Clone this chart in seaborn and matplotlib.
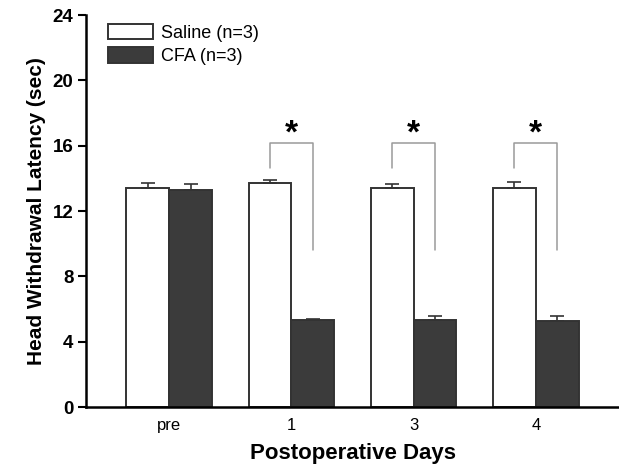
import numpy as np
import pandas as pd
import matplotlib
matplotlib.use("Agg")
import matplotlib.pyplot as plt
import seaborn as sns

days = ["pre", "1", "3", "4"]
groups = ["Saline (n=3)", "CFA (n=3)"]
saline_mean = [13.39, 13.74, 13.43, 13.43]
saline_sem = [0.35, 0.14, 0.23, 0.33]
cfa_mean = [13.27, 5.33, 5.33, 5.29]
cfa_sem = [0.37, 0.05, 0.26, 0.27]

# significance brackets for days 1, 3, 4
sig_days = ["1", "3", "4"]
bracket_top = 16.15
bracket_left_low = 14.65
bracket_right_low = 9.6

df = pd.DataFrame({
    "day": days * 2,
    "group": [groups[0]] * 4 + [groups[1]] * 4,
    "latency": saline_mean + cfa_mean,
})

sns.set_style("ticks")
plt.rcParams["font.family"] = ["Liberation Sans", "DejaVu Sans"]
plt.rcParams["text.color"] = "black"
plt.rcParams["axes.labelcolor"] = "black"
plt.rcParams["xtick.color"] = "black"
plt.rcParams["ytick.color"] = "black"

fig = plt.figure(figsize=(6.19, 4.69), dpi=100)
ax = fig.add_axes([0.139, 0.132, 0.861, 0.836])

sns.barplot(data=df, x="day", y="latency", hue="group", order=days,
            hue_order=groups, palette=["white", "#3b3b3b"], width=0.7,
            errorbar=None, edgecolor="#333333", linewidth=1.4, ax=ax)

for cont, sem in zip(ax.containers, [saline_sem, cfa_sem]):
    xs = [b.get_x() + b.get_width() / 2 for b in cont]
    hs = [b.get_height() for b in cont]
    ax.errorbar(xs, hs, yerr=[np.zeros(len(sem)), sem], fmt="none",
                ecolor="#333333", elinewidth=1.2, capsize=5, capthick=1.2)

sal_bars = list(ax.containers[0])
cfa_bars = list(ax.containers[1])
for d in sig_days:
    i = days.index(d)
    xl = sal_bars[i].get_x() + sal_bars[i].get_width() / 2
    xr = cfa_bars[i].get_x() + cfa_bars[i].get_width() / 2
    ax.plot([xl, xl, xr, xr],
            [bracket_left_low, bracket_top, bracket_top, bracket_right_low],
            color="#9a9a9a", lw=1.1)
    ax.text((xl + xr) / 2, bracket_top - 0.4, "*", ha="center", va="bottom",
            fontsize=24, fontweight="bold")

ax.set_ylim(0, 24)
ax.set_yticks([0, 4, 8, 12, 16, 20, 24])
ax.set_xlim(-0.68, 3.68)
ax.set_xlabel("Postoperative Days", fontsize=16, fontweight="bold", labelpad=7)
ax.set_ylabel("Head Withdrawal Latency (sec)", fontsize=15, fontweight="bold",
              labelpad=5)
for lab in ax.get_yticklabels():
    lab.set_fontweight("bold")
ax.tick_params(axis="y", labelsize=13.5, length=6, width=1.5, direction="out",
               pad=3)
ax.tick_params(axis="x", labelsize=12, length=0, pad=8)
sns.despine(ax=ax)
for s in ["left", "bottom"]:
    ax.spines[s].set_linewidth(1.8)
    ax.spines[s].set_color("black")

leg = ax.legend(loc="upper left", bbox_to_anchor=(0.02, 1.005), frameon=False,
                fontsize=13, handlelength=2.5, handleheight=0.95,
                handletextpad=0.45, labelspacing=0.3, borderaxespad=0.2)

fig.savefig("out.png", dpi=100)
